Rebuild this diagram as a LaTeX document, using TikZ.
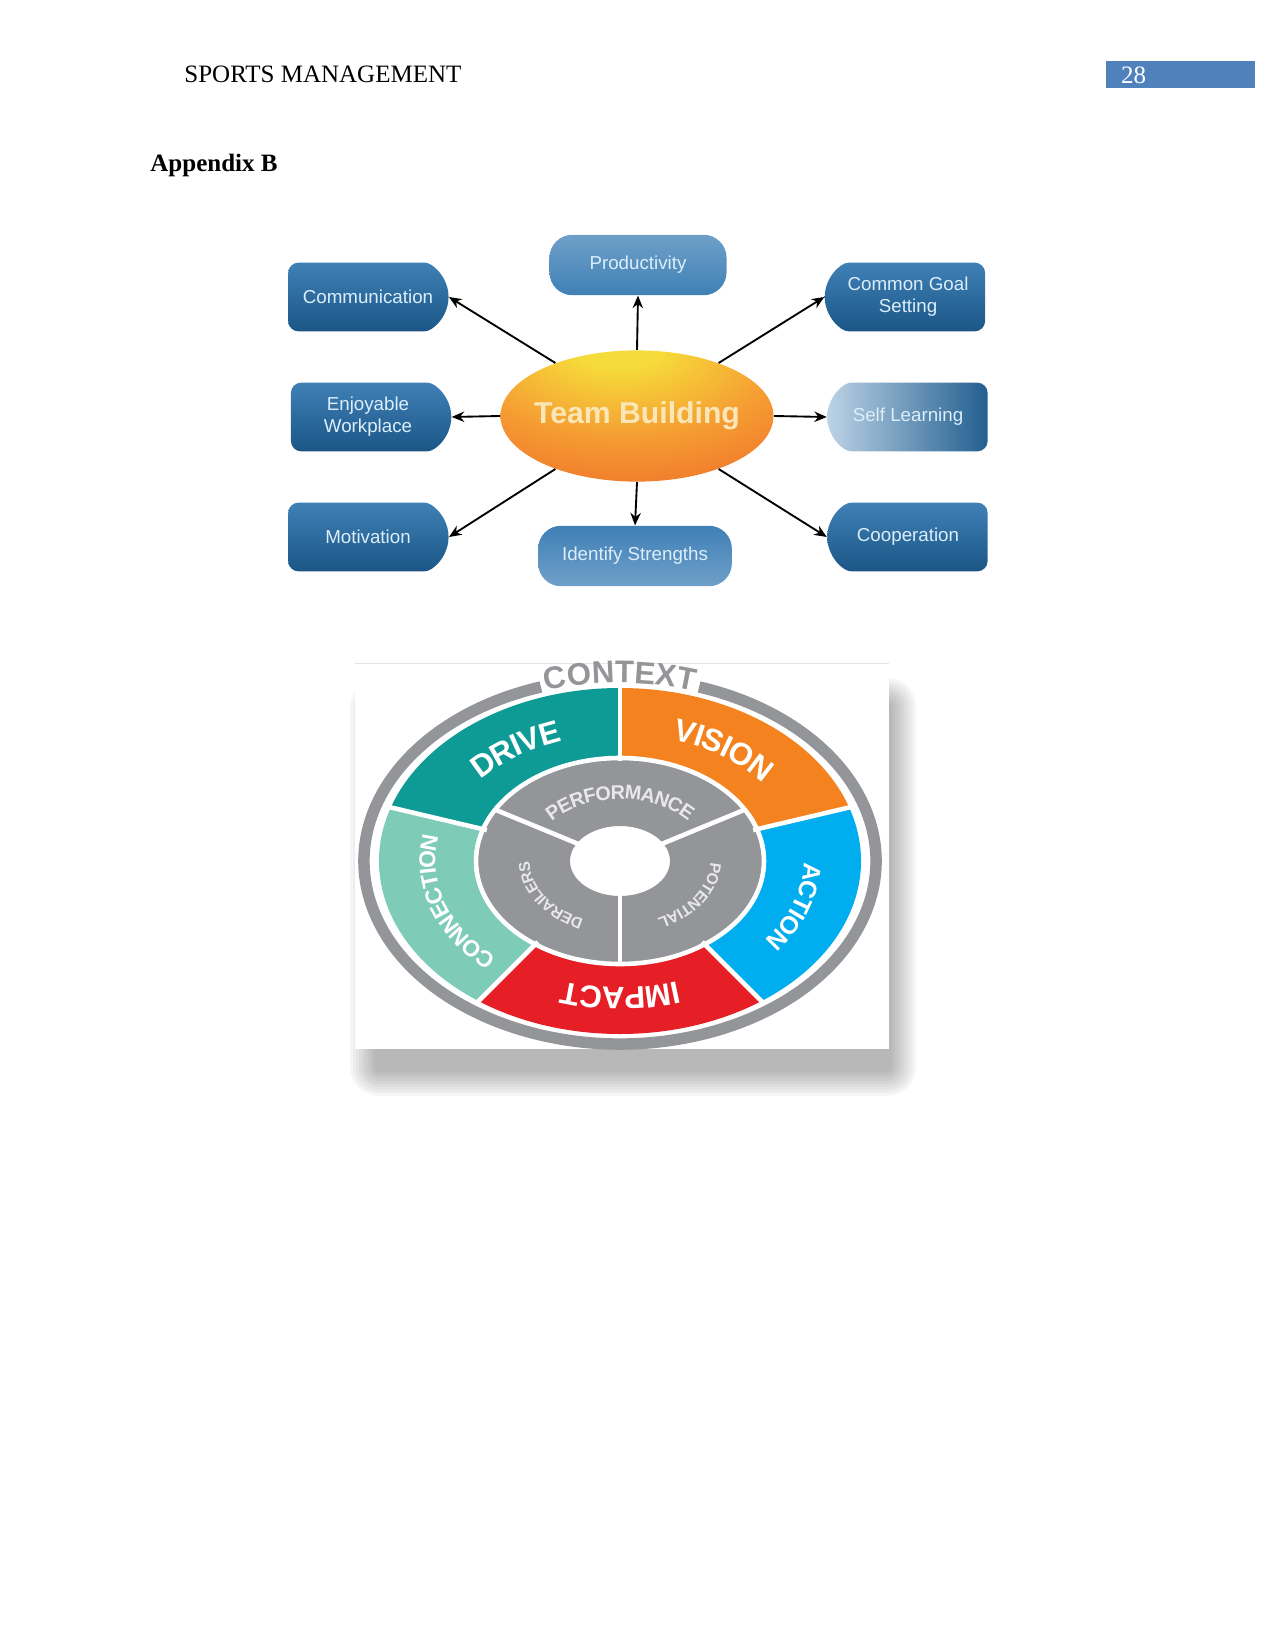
\documentclass[tikz,border=0pt]{standalone}
\usepackage{fontspec}
\setmainfont{Liberation Serif}
\newfontfamily\diagfont{Liberation Sans}
\usetikzlibrary{shapes.geometric, shapes.misc, arrows.meta, decorations.text}

\definecolor{pageblue}{HTML}{4F81BD}
\definecolor{boxlight}{HTML}{3F80B6}
\definecolor{boxdark}{HTML}{1B5686}
\definecolor{boxtext}{HTML}{DCEEFA}
\definecolor{tbyellow}{HTML}{F6DC3A}
\definecolor{tborange}{HTML}{F59A32}
\definecolor{tbred}{HTML}{EC5426}
\definecolor{tbtext}{HTML}{FBE6B8}
\definecolor{drivecol}{HTML}{0E9A95}
\definecolor{visioncol}{HTML}{F4821F}
\definecolor{actioncol}{HTML}{00ADEE}
\definecolor{impactcol}{HTML}{E61F26}
\definecolor{conncol}{HTML}{7ECBB8}
\definecolor{wheelgrey}{HTML}{939598}
\definecolor{innertext}{HTML}{E8E8E8}

\pgfdeclareradialshading{tbshade}{\pgfpoint{-4bp}{30bp}}{%
  color(0bp)=(tbyellow); color(8bp)=(tbyellow); color(28bp)=(tborange);
  color(58bp)=(tbred); color(75bp)=(tbred)}

\newcommand{\wheelfont}{\diagfont\bfseries}

\tikzset{
  tbbox/.style={text=boxtext, font=\diagfont\fontsize{9}{10.5}\selectfont,
    align=center, minimum width=79pt, minimum height=33pt, inner sep=1pt,
    top color=boxlight, bottom color=boxdark},
  leftcol/.style={tbbox, rounded rectangle, rounded rectangle left arc=none, rounded corners=5pt},
  rightcol/.style={tbbox, rounded rectangle, rounded rectangle right arc=none, rounded corners=5pt},
  midcol/.style={tbbox, rectangle, rounded corners=11pt, minimum height=29pt,
    top color=boxlight!75!white, bottom color=boxlight},
  tbnode/.style={ellipse, minimum width=131pt, minimum height=63pt, inner xsep=-14pt, inner ysep=0pt,
    shading=tbshade, text=tbtext, font=\diagfont\bfseries\fontsize{14.5}{14.5}\selectfont},
  tbarrow/.style={-{Stealth[length=6pt, width=5pt]}, line width=0.9pt, black},
  wheeltext/.style={decorate, decoration={text along path, text align=center, text color=#1}},
  sep/.style={white, line width=2.2pt},
  shadowlayer/.style={black, opacity=0.035}
}

\begin{document}
\begin{tikzpicture}[x=0.48pt, y=0.48pt]
\useasboundingbox (0,0) rectangle (1275,-1650);

% header
\node[anchor=base west, inner sep=0pt, font=\fontsize{12}{14}\selectfont] (hdr) at (184,-83) {SPORTS MANAGEMENT};
\node[fill=pageblue, anchor=north west, minimum width=71.5pt, minimum height=13pt, inner sep=0pt] (pgbox) at (1106,-61) {};
\node[anchor=west, text=white, inner sep=0pt, font=\fontsize{12}{14}\selectfont] (pgnum) at ([xshift=7pt]pgbox.west) {28};
\node[anchor=base west, inner sep=0pt, font=\bfseries\fontsize{12}{14}\selectfont] (appx) at (150,-172) {Appendix B};

% team building
\node[tbnode] (tb) at (637,-416) {Team Building};
\node[leftcol] (comm) at (368,-297) {Communication};
\node[leftcol] (enj) at (368,-417) {Enjoyable\\Workplace};
\node[leftcol] (mot) at (368,-537) {Motivation};
\node[rightcol] (cgs) at (908,-297) {Common Goal\\Setting};
\node[rightcol, left color=boxlight!35!white, right color=boxdark!80!boxlight] (self) at (908,-417) {Self Learning};
\node[rightcol] (coop) at (908,-537) {Cooperation};
\node[midcol, minimum width=85pt] (prod) at (638,-265) {Productivity};
\node[midcol, minimum width=93pt, top color=boxlight, bottom color=boxlight!75!white] (ids) at (635,-556) {Identify Strengths};

\draw[tbarrow] (tb.147) -- (comm.east);
\draw[tbarrow] (tb.north) -- (prod.south);
\draw[tbarrow] (tb.33) -- (cgs.west);
\draw[tbarrow] (tb.west) -- (enj.east);
\draw[tbarrow] (tb.east) -- (self.west);
\draw[tbarrow] (tb.213) -- (mot.east);
\draw[tbarrow] (tb.south) -- (ids.north);
\draw[tbarrow] (tb.327) -- (coop.west);

% wheel: soft shadow and white card
\fill[shadowlayer, rounded corners=14pt] (350,-678) rectangle (916,-1096);
\fill[shadowlayer, rounded corners=12pt] (353,-681) rectangle (913,-1093);
\fill[shadowlayer, rounded corners=11pt] (356,-684) rectangle (910,-1090);
\fill[shadowlayer, rounded corners=10pt] (359,-687) rectangle (907,-1087);
\fill[shadowlayer, rounded corners=8pt] (362,-690) rectangle (904,-1084);
\fill[shadowlayer, rounded corners=7pt] (365,-693) rectangle (901,-1081);
\fill[shadowlayer, rounded corners=6pt] (368,-696) rectangle (898,-1078);
\fill[shadowlayer, rounded corners=4pt] (371,-699) rectangle (895,-1075);
\fill[shadowlayer, rounded corners=3pt] (374,-702) rectangle (892,-1072);
\fill[white] (355,-663) rectangle (889,-1049);
\draw[black!10] (355,-663) -- (889,-663);

\begin{scope}[shift={(620,-861)}]
  % outer context ring
  \draw[wheelgrey, line width=5.5pt] (108:256 and 183) arc[start angle=108, end angle=432, x radius=256, y radius=183];
  \path[wheeltext=wheelgrey, decoration={text={|\wheelfont\fontsize{15}{15}\selectfont|CONTEXT}}]
    (130:249 and 178) arc[start angle=130, end angle=50, x radius=249, y radius=178];

  % colored ring
  \fill[drivecol] (162:241 and 173) arc[start angle=162, end angle=90, x radius=241, y radius=173]
    -- (90:146 and 104) arc[start angle=90, end angle=162, x radius=146, y radius=104] -- cycle;
  \fill[visioncol] (90:241 and 173) arc[start angle=90, end angle=18, x radius=241, y radius=173]
    -- (18:146 and 104) arc[start angle=18, end angle=90, x radius=146, y radius=104] -- cycle;
  \fill[actioncol] (18:241 and 173) arc[start angle=18, end angle=-54, x radius=241, y radius=173]
    -- (-54:146 and 104) arc[start angle=-54, end angle=18, x radius=146, y radius=104] -- cycle;
  \fill[impactcol] (-54:241 and 173) arc[start angle=-54, end angle=-126, x radius=241, y radius=173]
    -- (-126:146 and 104) arc[start angle=-126, end angle=-54, x radius=146, y radius=104] -- cycle;
  \fill[conncol] (234:241 and 173) arc[start angle=234, end angle=162, x radius=241, y radius=173]
    -- (162:146 and 104) arc[start angle=162, end angle=234, x radius=146, y radius=104] -- cycle;

  % inner grey ring
  \fill[wheelgrey, even odd rule] (0,0) ellipse[x radius=142, y radius=102] (0,0) ellipse[x radius=50, y radius=35];

  % separators
  \draw[sep] (90:140 and 100) -- (90:246 and 177);
  \draw[sep] (18:140 and 100) -- (18:246 and 177);
  \draw[sep] (-54:140 and 100) -- (-54:246 and 177);
  \draw[sep] (-126:140 and 100) -- (-126:246 and 177);
  \draw[sep] (162:140 and 100) -- (162:246 and 177);
  \draw[sep] (30:48 and 34) -- (30:146 and 104);
  \draw[sep] (150:48 and 34) -- (150:146 and 104);
  \draw[sep] (-90:48 and 34) -- (-90:146 and 104);
  \draw[sep] (0,0) ellipse[x radius=144, y radius=103];

  % ring labels
  \path[wheeltext=white, decoration={raise=-5.4pt, text={|\wheelfont\fontsize{15}{15}\selectfont|DRIVE}}]
    (162:193 and 138) arc[start angle=162, end angle=90, x radius=193, y radius=138];
  \path[wheeltext=white, decoration={raise=-5.4pt, text={|\wheelfont\fontsize{15}{15}\selectfont|VISION}}]
    (90:193 and 138) arc[start angle=90, end angle=18, x radius=193, y radius=138];
  \path[wheeltext=white, decoration={raise=-4.3pt, text={|\wheelfont\fontsize{12}{12}\selectfont|ACTION}}]
    (18:193 and 138) arc[start angle=18, end angle=-54, x radius=193, y radius=138];
  \path[wheeltext=white, decoration={raise=-5.4pt, text={|\wheelfont\fontsize{15}{15}\selectfont|IMPACT}}]
    (-54:193 and 138) arc[start angle=-54, end angle=-126, x radius=193, y radius=138];
  \path[wheeltext=white, decoration={raise=-4pt, text={|\wheelfont\fontsize{11}{11}\selectfont|CONNECTION}}]
    (234:193 and 138) arc[start angle=234, end angle=162, x radius=193, y radius=138];
  \path[wheeltext=innertext, decoration={raise=-3.4pt, text={|\wheelfont\fontsize{9.5}{9.5}\selectfont|PERFORMANCE}}]
    (150:96 and 69) arc[start angle=150, end angle=30, x radius=96, y radius=69];
  \path[wheeltext=innertext, decoration={raise=-2.7pt, text={|\wheelfont\fontsize{7.5}{7.5}\selectfont|POTENTIAL}}]
    (30:96 and 69) arc[start angle=30, end angle=-90, x radius=96, y radius=69];
  \path[wheeltext=innertext, decoration={raise=-2.7pt, text={|\wheelfont\fontsize{7.5}{7.5}\selectfont|DERAILERS}}]
    (270:96 and 69) arc[start angle=270, end angle=150, x radius=96, y radius=69];
\end{scope}

\end{tikzpicture}
\end{document}
